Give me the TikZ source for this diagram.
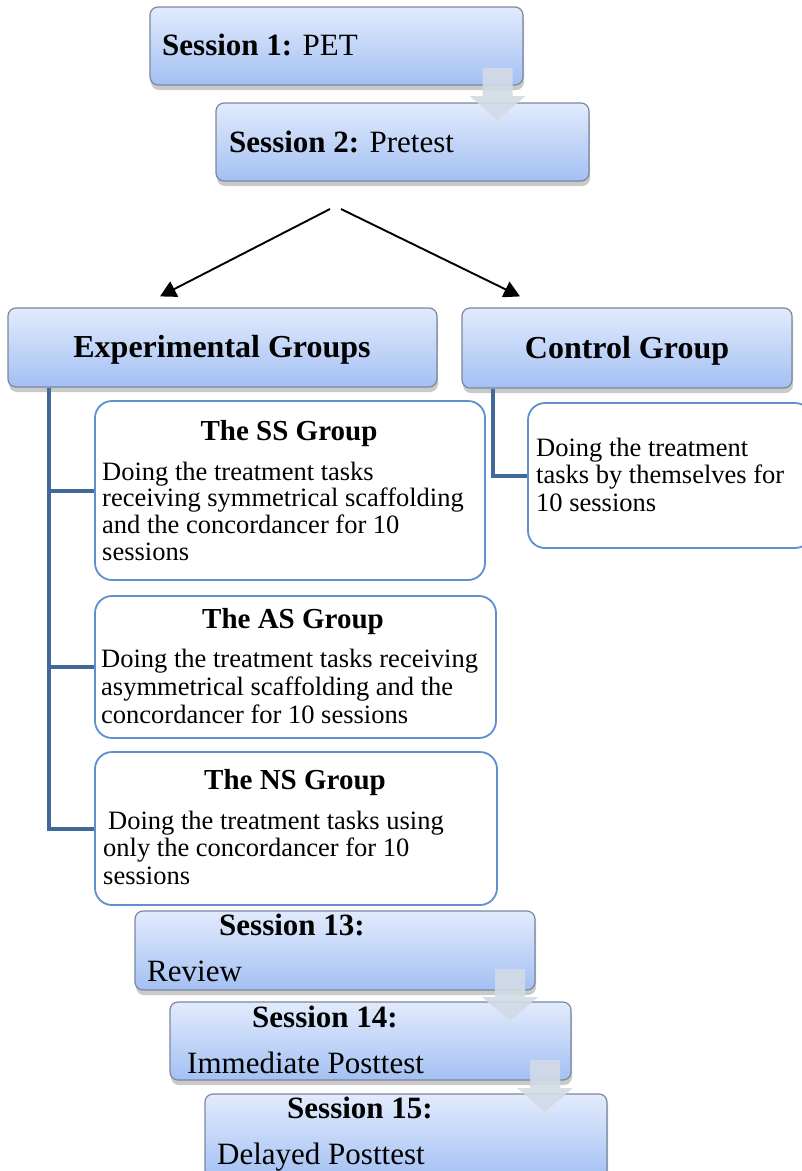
\documentclass[tikz,border=0pt]{standalone}
\usepackage{fontspec}
\setmainfont{Liberation Serif}
\usetikzlibrary{arrows.meta}
\usetikzlibrary{shadows}
\definecolor{boxtop}{HTML}{E2EBFC}
\definecolor{boxbot}{HTML}{A3C0F3}
\definecolor{boxline}{HTML}{7A879E}
\definecolor{subline}{HTML}{5E8FCE}
\definecolor{treeblue}{HTML}{41699C}
\definecolor{arrowgray}{HTML}{D2DAE6}
\newcommand{\sessfont}{\fontsize{31}{36}\selectfont}
\newcommand{\subfont}{\fontsize{29}{33}\selectfont\bfseries}
\newcommand{\bodyfont}{\fontsize{26.5}{28}\selectfont}
\tikzset{
 sessbox/.style = {draw=boxline, line width=1.2pt, rounded corners=8pt, top color=boxtop, bottom color=boxbot,
   inner sep=0pt, drop shadow={shadow xshift=1pt, shadow yshift=-5pt, opacity=0.3, fill=black!70}},
 subbox/.style = {draw=subline, line width=1.8pt, rounded corners=17pt, fill=white, inner sep=0pt},
 treeline/.style = {draw=treeblue, line width=4pt},
 splitarrow/.style = {line width=1.9pt, -{Triangle[length=16pt,width=17pt]}},
 txt/.style = {anchor=base west, inner sep=0pt},
 ctxt/.style = {anchor=base, inner sep=0pt},
 downarrow/.pic = {
   \fill[arrowgray, opacity=0.9] (-15,0) -- (15,0) -- (15,28) -- (28,28) -- (0,52) -- (-28,28) -- (-15,28) -- cycle;
 }
}

\begin{document}
\begin{tikzpicture}[x=1pt, y=-1pt]
\useasboundingbox (0,0) rectangle (802,1171);

% sessions before the treatment
\node[sessbox, minimum width=373pt, minimum height=78pt] (s1) at (336.5,46) {};
\node[sessbox, minimum width=373pt, minimum height=78pt] (s2) at (402.5,142) {};
\node[txt] (s1txt) at (162,55) {\sessfont\textbf{Session 1:} PET};
\node[txt] (s2txt) at (229,152) {\sessfont\textbf{Session 2:} Pretest};
\pic at (497.5,68) {downarrow};

% split into the groups
\coordinate (splitL) at (330,209);
\coordinate (splitR) at (341,209);
\node[sessbox, minimum width=429pt, minimum height=79pt] (exp) at (222.5,347.5) {};
\node[sessbox, minimum width=330pt, minimum height=80pt] (ctrl) at (627,348) {};
\node[ctxt] (exptxt) at (222,357) {\fontsize{32}{36}\selectfont\bfseries Experimental Groups};
\node[ctxt] (ctrltxt) at (627,358) {\fontsize{32}{36}\selectfont\bfseries Control Group};
\draw[splitarrow] (splitL) -- ([xshift=-62.5pt, yshift=11pt]exp.north);
\draw[splitarrow] (splitR) -- ([xshift=-107pt, yshift=11pt]ctrl.north);

% group boxes
\node[subbox, minimum width=390pt, minimum height=179pt] (ss) at (290,490.5) {};
\node[subbox, minimum width=401pt, minimum height=142pt] (as) at (295.5,667) {};
\node[subbox, minimum width=402pt, minimum height=153pt] (ns) at (296,828.5) {};
\node[subbox, minimum width=284pt, minimum height=145pt] (cs) at (670,475.5) {};

% tree lines
\draw[treeline] ([xshift=42pt]exp.south west) |- (ss.west);
\draw[treeline] ([xshift=42pt]exp.south west) |- (as.west);
\draw[treeline] ([xshift=42pt]exp.south west) |- (ns.west);
\draw[treeline] ([xshift=32pt]ctrl.south west) |- (cs.west);

\node[ctxt] (sshead) at (289,440) {\subfont The SS Group};
\foreach \ln [count=\i from 0] in {Doing the treatment tasks, receiving symmetrical scaffolding, and the concordancer for 10, sessions}
 \node[txt] (ss-\i) at (102,480+26.8*\i) {\bodyfont \ln};

\node[ctxt] (ashead) at (293,628) {\subfont The AS Group};
\foreach \ln [count=\i from 0] in {Doing the treatment tasks receiving, asymmetrical scaffolding and the, concordancer for 10 sessions}
 \node[txt] (as-\i) at (101,667+28*\i) {\bodyfont \ln};

\node[ctxt] (nshead) at (295,789) {\subfont The NS Group};
\node[txt] (ns-0) at (108,829) {\bodyfont Doing the treatment tasks using};
\foreach \ln [count=\i from 1] in {only the concordancer for 10, sessions}
 \node[txt] (ns-\i) at (103,829+27.5*\i) {\bodyfont \ln};

\foreach \ln [count=\i from 0] in {Doing the treatment, tasks by themselves for, 10 sessions}
 \node[txt] (cs-\i) at (536,456+27.5*\i) {\bodyfont \ln};

% sessions after the treatment
\node[sessbox, minimum width=400pt, minimum height=79pt] (s13) at (335,950.5) {};
\node[sessbox, minimum width=401pt, minimum height=78pt] (s14) at (370.5,1041) {};
\node[sessbox, minimum width=402pt, minimum height=86pt] (s15) at (406,1137) {};
\node[txt] (s13a) at (219,935) {\sessfont\bfseries Session 13:};
\node[txt] (s13b) at (147,981) {\sessfont Review};
\node[txt] (s14a) at (252,1027) {\sessfont\bfseries Session 14:};
\node[txt] (s14b) at (187,1073) {\sessfont Immediate Posttest};
\node[txt] (s15a) at (287,1118) {\sessfont\bfseries Session 15:};
\node[txt] (s15b) at (217,1164) {\sessfont Delayed Posttest};
\pic at (510,969) {downarrow};
\pic at (545,1060) {downarrow};
\end{tikzpicture}
\end{document}
